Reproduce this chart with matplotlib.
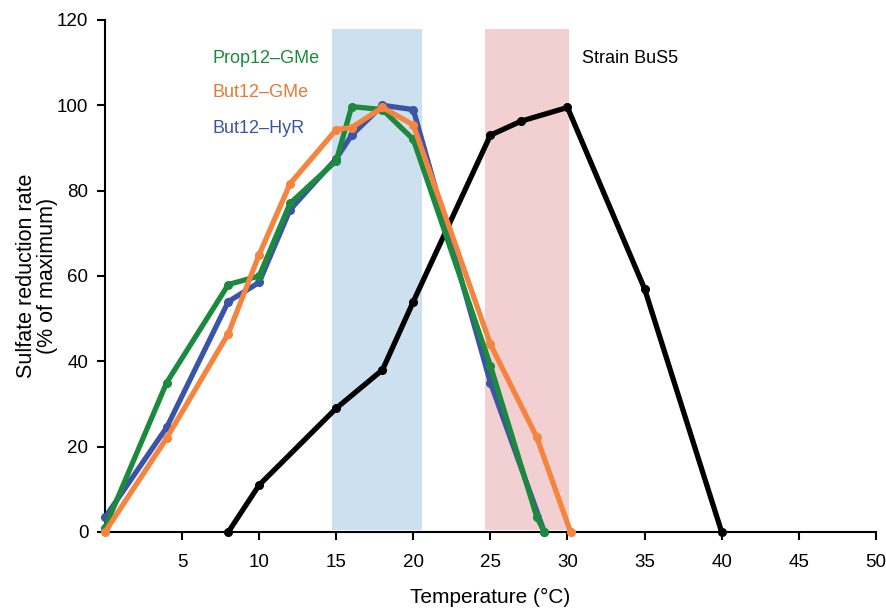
import matplotlib
matplotlib.use("Agg")
import matplotlib.pyplot as plt

plt.rcParams['font.family'] = ['Liberation Sans', 'DejaVu Sans']

# Data
prop12_gme_x = [0, 4, 8, 10, 12, 15, 16, 18, 20, 25, 28, 28.5]
prop12_gme_y = [1, 35, 58, 60, 77, 87, 99.7, 99, 92, 39, 3.6, 0]

but12_gme_x = [0, 4, 8, 10, 12, 15, 16, 18, 20, 25, 28, 30.2]
but12_gme_y = [0, 22, 46.5, 65, 81.6, 94.3, 94.8, 99.5, 95.4, 44, 22.3, 0]

but12_hyr_x = [0, 4, 8, 10, 12, 15, 16, 18, 20, 25, 28.5]
but12_hyr_y = [3.4, 24.5, 54, 58.5, 75.5, 87.5, 93, 100, 99, 35, 0]

bus5_x = [8, 10, 15, 18, 20, 25, 27, 30, 35, 40]
bus5_y = [0, 11, 29, 38, 54, 93, 96.3, 99.5, 57, 0]

bands = [(14.7, 20.55, '#cde0ef'), (24.65, 30.1, '#f2d0d2')]
band_top = 118

xticks = [5, 10, 15, 20, 25, 30, 35, 40, 45, 50]
yticks = [0, 20, 40, 60, 80, 100, 120]

fig = plt.figure(figsize=(8.86, 6.11), dpi=100)
ax = fig.add_axes([0.1185, 0.1293, 0.8700, 0.8380])

for x0, x1, c in bands:
    ax.fill_between([x0, x1], 0.4, band_top, color=c, lw=0, zorder=0)

lw = 3.8
ms = 5.5
ax.plot(bus5_x, bus5_y, color='black', lw=lw, marker='o', ms=ms, zorder=2, clip_on=False)
ax.plot(but12_hyr_x, but12_hyr_y, color='#3b55a6', lw=lw, marker='o', ms=ms, zorder=3, clip_on=False)
ax.plot(prop12_gme_x, prop12_gme_y, color='#1b8a3e', lw=lw, marker='o', ms=ms, zorder=4, clip_on=False)
ax.plot(but12_gme_x, but12_gme_y, color='#f5843f', lw=lw, marker='o', ms=ms, zorder=5, clip_on=False)

ax.set_xlim(0, 50)
ax.set_ylim(0, 120)
ax.set_xticks(xticks)
ax.set_yticks(yticks)
for s in ['top', 'right']:
    ax.spines[s].set_visible(False)
for s in ['left', 'bottom']:
    ax.spines[s].set_linewidth(1.5)
ax.tick_params(direction='out', length=6, width=1.5, labelsize=13.5)
ax.tick_params(axis='x', pad=10)
ax.tick_params(axis='y', pad=6)

ax.set_xlabel('Temperature (°C)', fontsize=15, labelpad=12)
ax.set_ylabel('Sulfate reduction rate\n(% of maximum)', fontsize=15.5, labelpad=-1, linespacing=1.05)

ax.text(7.0, 111, 'Prop12–GMe', color='#1b8a3e', fontsize=13, va='center', ha='left')
ax.text(7.0, 103, 'But12–GMe', color='#e57a35', fontsize=13, va='center', ha='left')
ax.text(7.0, 94.5, 'But12–HyR', color='#3b55a6', fontsize=13, va='center', ha='left')
ax.text(30.95, 111, 'Strain BuS5', color='black', fontsize=13, va='center', ha='left')

fig.savefig('out.png', dpi=100)
